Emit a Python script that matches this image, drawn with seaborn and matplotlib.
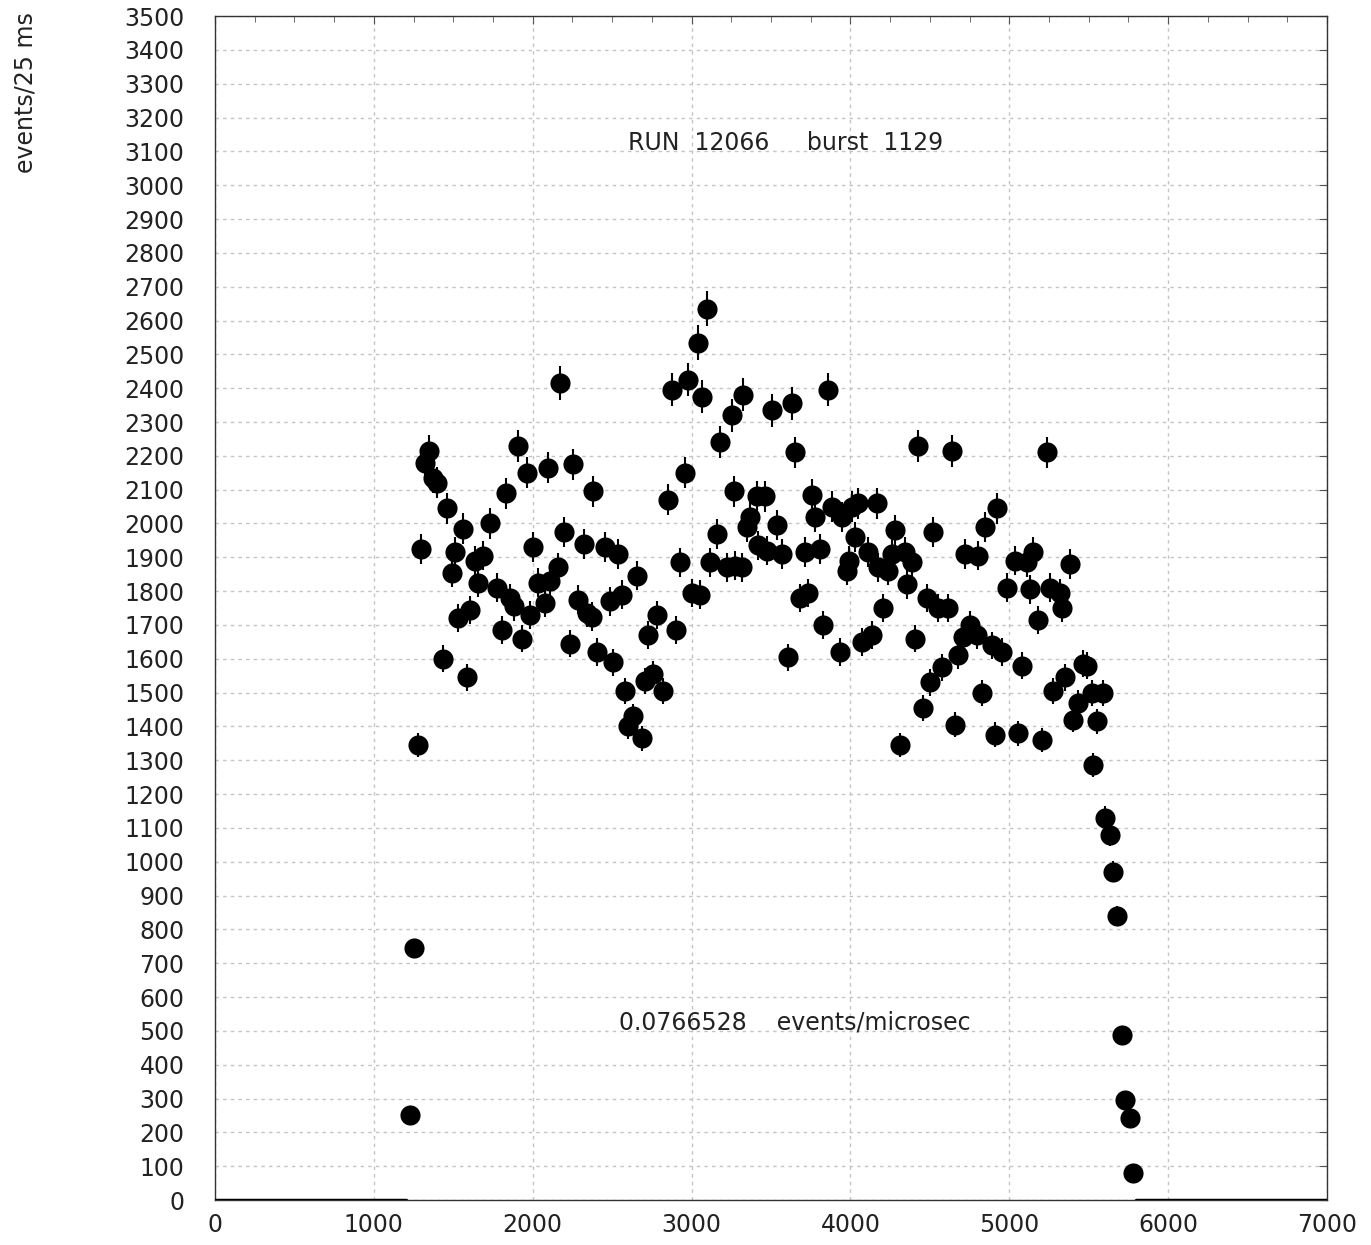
import numpy as np
import pandas as pd
import seaborn as sns
import matplotlib.pyplot as plt

# time within burst (microsec) and events per 25 ms bin
t = [1225, 1250, 1275, 1300, 1325, 1350, 1375, 1400, 1435, 1460, 1490, 1510, 1530, 1560,
     1585, 1605, 1635, 1655, 1685, 1730, 1775, 1805, 1835, 1855, 1880, 1905, 1930, 1965,
     1985, 2000, 2035, 2075, 2095, 2110, 2160, 2170, 2200, 2235, 2255, 2285, 2325, 2340,
     2375, 2380, 2405, 2455, 2485, 2505, 2535, 2560, 2580, 2600, 2630, 2655, 2690, 2705,
     2725, 2755, 2780, 2820, 2850, 2875, 2905, 2925, 2960, 2975, 3000, 3040, 3055, 3065,
     3100, 3115, 3160, 3180, 3220, 3255, 3270, 3275, 3315, 3325, 3350, 3370, 3410, 3420,
     3460, 3475, 3505, 3540, 3570, 3605, 3630, 3650, 3680, 3715, 3735, 3760, 3775, 3810,
     3825, 3860, 3885, 3935, 3950, 3980, 3990, 4010, 4030, 4050, 4075, 4110, 4135, 4165,
     4175, 4205, 4235, 4260, 4280, 4310, 4345, 4355, 4385, 4405, 4425, 4455, 4480, 4500,
     4520, 4550, 4575, 4615, 4640, 4660, 4680, 4710, 4720, 4755, 4795, 4805, 4830, 4845,
     4890, 4910, 4920, 4955, 4985, 5035, 5055, 5080, 5110, 5130, 5150, 5180, 5205, 5235,
     5255, 5275, 5320, 5330, 5350, 5380, 5400, 5430, 5465, 5490, 5520, 5525, 5550, 5590,
     5600, 5635, 5655, 5680, 5710, 5730, 5760, 5780]
events = [250, 745, 1345, 1925, 2180, 2215, 2135, 2120, 1600, 2045, 1855, 1915, 1720, 1985,
          1545, 1745, 1890, 1825, 1905, 2000, 1810, 1685, 2090, 1780, 1755, 2230, 1660, 2150,
          1730, 1930, 1825, 1765, 2165, 1830, 1870, 2415, 1975, 1645, 2175, 1775, 1940, 1735,
          1725, 2095, 1620, 1930, 1770, 1590, 1910, 1790, 1505, 1400, 1430, 1845, 1365, 1535,
          1670, 1555, 1730, 1505, 2070, 2395, 1685, 1885, 2150, 2425, 1795, 2535, 1790, 2375,
          2635, 1885, 1970, 2240, 1870, 2320, 2095, 1875, 1870, 2380, 1990, 2020, 2080, 1935,
          2080, 1920, 2335, 1995, 1910, 1605, 2355, 2210, 1780, 1915, 1795, 2085, 2020, 1925,
          1700, 2395, 2050, 1620, 2020, 1860, 1890, 2050, 1960, 2060, 1650, 1915, 1670, 2060,
          1870, 1750, 1860, 1910, 1980, 1345, 1915, 1820, 1885, 1660, 2230, 1455, 1780, 1530,
          1975, 1750, 1575, 1750, 2215, 1405, 1610, 1665, 1910, 1700, 1670, 1905, 1500, 1990,
          1640, 1375, 2045, 1620, 1810, 1890, 1380, 1580, 1885, 1805, 1915, 1715, 1360, 2210,
          1810, 1505, 1795, 1750, 1545, 1880, 1420, 1470, 1585, 1580, 1500, 1285, 1415, 1500,
          1130, 1080, 970, 840, 488, 295, 242, 80]

# empty bins before and after the burst
empty_lo = [0, 1200]
empty_hi = [5800, 7000]

df = pd.DataFrame({"t": t, "events": events})
df["err"] = np.sqrt(df["events"])

sns.set_style("white")
plt.rcParams['font.family'] = ['DejaVu Sans']

fig = plt.figure(figsize=(13.71, 12.45), dpi=100)
ax = fig.add_axes([0.1568, 0.0361, 0.8111, 0.951])

ax.errorbar(df["t"], df["events"], yerr=df["err"], fmt="none", ecolor="black",
            elinewidth=1.5, capsize=0, zorder=2)
sns.scatterplot(data=df, x="t", y="events", ax=ax, color="black", s=210,
                edgecolor="black", linewidth=0, zorder=3, legend=False)
ax.plot(empty_lo, [0, 0], color="black", lw=2.5, zorder=3)
ax.plot(empty_hi, [0, 0], color="black", lw=2.5, zorder=3)

ax.set_xlim(0, 7000)
ax.set_ylim(0, 3500)
ax.set_xticks(np.arange(0, 7001, 1000))
ax.set_xticks(np.arange(0, 7001, 250), minor=True)
ax.set_yticks(np.arange(0, 3501, 100))
ax.tick_params(axis="both", which="both", direction="in", top=True, right=True,
               labelsize=17, color="#555555", labelcolor="#222222")
ax.tick_params(which="major", length=6)
ax.tick_params(which="minor", length=4)
ax.tick_params(axis="x", pad=9)
ax.tick_params(axis="y", pad=22)

ax.grid(True, which="major", color="#c4c4c4", linestyle=(0, (2.5, 3)), lw=1)
for s in ax.spines.values():
    s.set_color("#333333")
    s.set_linewidth(1)

ax.set_xlabel("")
ax.set_ylabel("")
fig.text(0.010, 0.990, "events/25 ms", rotation=90, va="top", ha="left", fontsize=17,
         color="#222222")

ax.text(3594, 3125, "RUN  12066     burst  1129", ha="center", va="center", fontsize=17,
        color="#222222")
ax.text(3651, 526, "0.0766528    events/microsec", ha="center", va="center", fontsize=17,
        color="#222222")

fig.savefig("out.png", dpi=100)
